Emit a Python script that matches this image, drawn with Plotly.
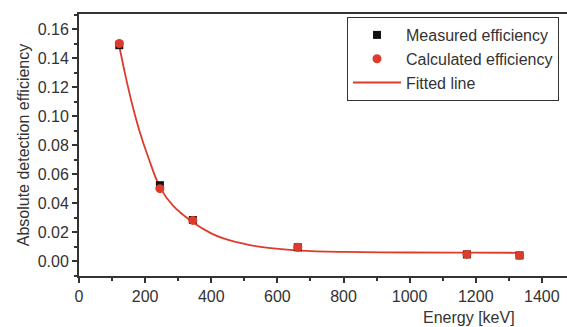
import plotly.graph_objects as go

# Gamma-ray energies of the calibration lines (keV)
energy = [121.8, 244.7, 344.3, 661.7, 1173.2, 1332.5]
# Absolute detection efficiency
measured_eff = [0.149, 0.0525, 0.0285, 0.0097, 0.0048, 0.0041]
calculated_eff = [0.1502, 0.0501, 0.0282, 0.0097, 0.0048, 0.0041]

# Exponential fit, sampled along the curve
fit_energy = [121, 140, 160, 182, 210, 245, 285, 341, 400, 437, 517, 573,
              669, 800, 1000, 1173, 1340]
fit_eff = [0.1495, 0.1285, 0.109, 0.0906, 0.0714, 0.051, 0.0382, 0.0275,
           0.0193, 0.0158, 0.0112, 0.0093, 0.0074, 0.0065, 0.0061, 0.0060,
           0.0059]

x_ticks = [0, 200, 400, 600, 800, 1000, 1200, 1400]
y_ticks = [0.00, 0.02, 0.04, 0.06, 0.08, 0.10, 0.12, 0.14, 0.16]

RED = "#dd3b2c"
AXIS = "#333333"
FONT = "Liberation Sans, Arial, sans-serif"
FS = 16

fig = go.Figure()
fig.add_trace(go.Scatter(
    x=fit_energy, y=fit_eff, mode="lines", name="Fitted line",
    line=dict(color=RED, width=1.8, shape="spline", smoothing=1.0),
    legendrank=3,
))
fig.add_trace(go.Scatter(
    x=energy, y=measured_eff, mode="markers", name="Measured efficiency",
    marker=dict(symbol="square", size=8, color="#111111"),
    legendrank=1,
))
fig.add_trace(go.Scatter(
    x=energy, y=calculated_eff, mode="markers", name="Calculated efficiency",
    marker=dict(symbol="circle", size=9, color=RED),
    legendrank=2,
))

fig.add_annotation(
    text="Energy [keV]", xref="paper", yref="paper",
    x=(517 - 79) / (567 - 79), y=-41 / 262, xanchor="right", yanchor="middle",
    showarrow=False, font=dict(size=FS, color=AXIS, family=FONT),
)

fig.update_layout(
    width=567, height=327,
    margin=dict(l=79, r=0, t=14, b=51),
    paper_bgcolor="white", plot_bgcolor="white",
    font=dict(family=FONT, size=FS, color=AXIS),
    showlegend=True,
    legend=dict(
        x=(347 - 79) / (567 - 79), y=1 - (17 - 14) / 262,
        xanchor="left", yanchor="top",
        bordercolor=AXIS, borderwidth=1, bgcolor="white",
        font=dict(size=FS, family=FONT, color=AXIS),
        itemwidth=48, tracegroupgap=0, entrywidth=200,
    ),
    xaxis=dict(
        range=[0, 1476], tickvals=x_ticks, ticks="outside", ticklen=5,
        tickwidth=1.5, tickcolor=AXIS, showline=True, linecolor=AXIS,
        linewidth=2, mirror=True, showgrid=False, zeroline=False,
        tickfont=dict(size=FS, family=FONT, color=AXIS),
        minor=dict(dtick=100, ticks="outside", ticklen=3, tickcolor=AXIS,
                   showgrid=False),
    ),
    yaxis=dict(
        range=[-0.0101, 0.1705], tickvals=y_ticks, tickformat=".2f",
        ticks="outside", ticklen=5, tickwidth=1.5, tickcolor=AXIS,
        showline=True, linecolor=AXIS, linewidth=2, showgrid=False,
        zeroline=False, tickfont=dict(size=FS, family=FONT, color=AXIS),
        title=dict(text="Absolute detection efficiency", standoff=4,
                   font=dict(size=FS, family=FONT, color=AXIS)),
        minor=dict(dtick=0.01, ticks="outside", ticklen=3, tickcolor=AXIS,
                   showgrid=False),
    ),
)

fig.write_html("out.html")
